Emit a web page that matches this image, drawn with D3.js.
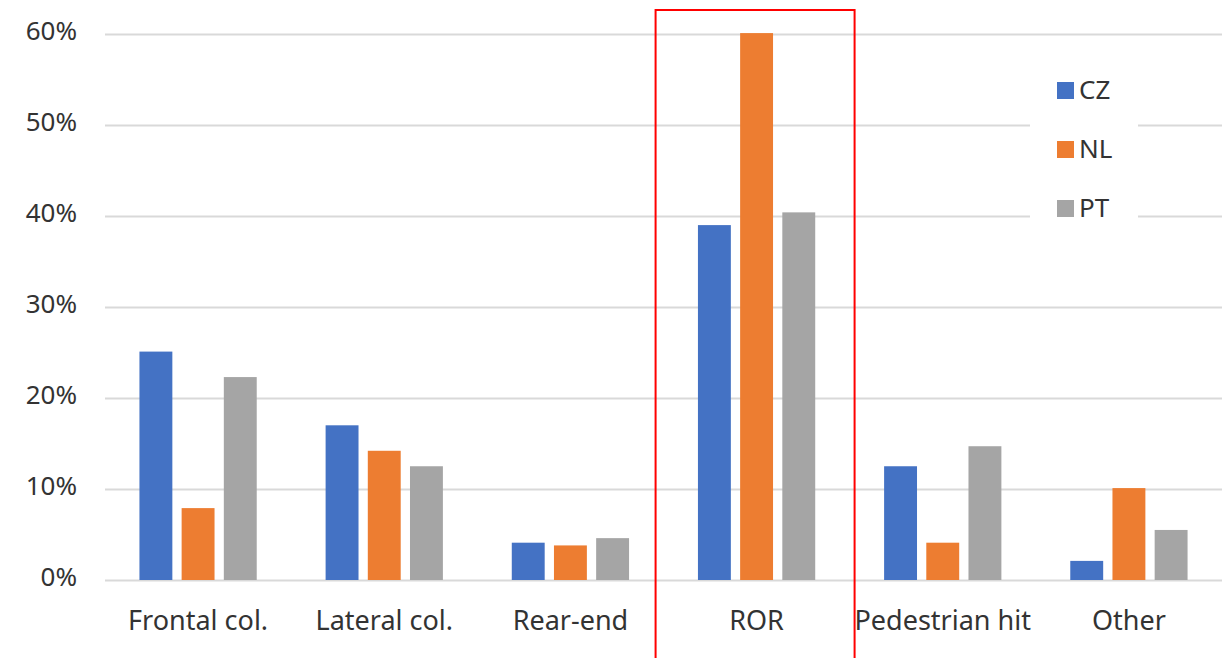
<!DOCTYPE html>
<html><head><meta charset="utf-8">
<script src="https://cdn.jsdelivr.net/npm/d3@7"></script>
<style>
html,body{margin:0;padding:0;background:#fff;}
svg{display:block;}
text{font-family:"Noto Sans","Open Sans",sans-serif;fill:#333333;}
</style></head>
<body>
<svg id="chart" width="1226" height="658"></svg>
<script>
const categories = ["Frontal col.", "Lateral col.", "Rear-end", "ROR", "Pedestrian hit", "Other"];
const seriesNames = ["CZ", "NL", "PT"];
const cz = [25.1, 17.0, 4.1, 39.0, 12.5, 2.1];
const nl = [7.9, 14.2, 3.8, 60.1, 4.1, 10.1];
const pt = [22.3, 12.5, 4.6, 40.4, 14.7, 5.5];
const yTicks = [0, 10, 20, 30, 40, 50, 60];
const colors = ["#4472C4", "#ED7D31", "#A5A5A5"];
const highlight = "ROR";

(function(){
const series = [cz, nl, pt];
const svg = d3.select("#chart");
const mLeft = 105, mRight = 1222, mTop = 34, mBottom = 580;

const x0 = d3.scaleBand().domain(categories).range([mLeft, mRight]).paddingInner(0.37).paddingOuter(0.185);
const x1 = d3.scaleBand().domain(seriesNames).range([0, x0.bandwidth()]).paddingInner(0.22).paddingOuter(0);
const y = d3.scaleLinear().domain([0, 60]).range([mBottom, mTop]);

const yAxis = d3.axisLeft(y).tickValues(yTicks).tickSize(-(mRight - mLeft)).tickFormat(d => d + "%").tickPadding(28);
const gy = svg.append("g").attr("transform", `translate(${mLeft},0)`).call(yAxis);
gy.select(".domain").remove();
gy.attr("font-family", null).attr("font-size", null);
gy.selectAll(".tick line").attr("stroke", "#D9D9D9").attr("stroke-width", 2);
gy.selectAll(".tick text").attr("font-size", 26).attr("fill", "#333333").attr("dy", "0.22em");

const rows = categories.map((c, i) => ({cat: c, vals: seriesNames.map((s, j) => ({s, v: series[j][i], j}))}));
const groups = svg.append("g").selectAll("g").data(rows).join("g")
  .attr("transform", d => `translate(${x0(d.cat)},0)`);
groups.selectAll("rect").data(d => d.vals).join("rect")
  .attr("x", d => x1(d.s))
  .attr("width", x1.bandwidth())
  .attr("y", d => y(d.v))
  .attr("height", d => y(0) - y(d.v))
  .attr("fill", d => colors[d.j]);

const xAxis = d3.axisBottom(x0).tickSize(0).tickPadding(31);
const gx = svg.append("g").attr("transform", `translate(0,${mBottom})`).call(xAxis);
gx.select(".domain").remove();
gx.attr("font-family", null).attr("font-size", null);
gx.selectAll(".tick text").attr("font-size", 27).attr("fill", "#333333");

const legend = svg.append("g");
legend.append("rect").attr("x", 1030).attr("y", 62).attr("width", 108).attr("height", 172).attr("fill", "#fff");
const ly = d3.scalePoint().domain(seriesNames).range([90, 208]);
const li = legend.selectAll("g").data(seriesNames).join("g")
  .attr("transform", d => `translate(1057,${ly(d)})`);
li.append("rect").attr("x", 0).attr("y", -8).attr("width", 17).attr("height", 17)
  .attr("fill", (d, i) => colors[i]);
li.append("text").attr("x", 22).attr("y", 0).attr("dy", "0.36em").attr("font-size", 26).text(d => d);

const hx = x0(highlight) + x0.bandwidth() / 2;
svg.append("rect").attr("x", hx - 101).attr("y", 10).attr("width", 199).attr("height", 660)
  .attr("fill", "none").attr("stroke", "#FF0000").attr("stroke-width", 2);
})();
</script>
</body></html>
